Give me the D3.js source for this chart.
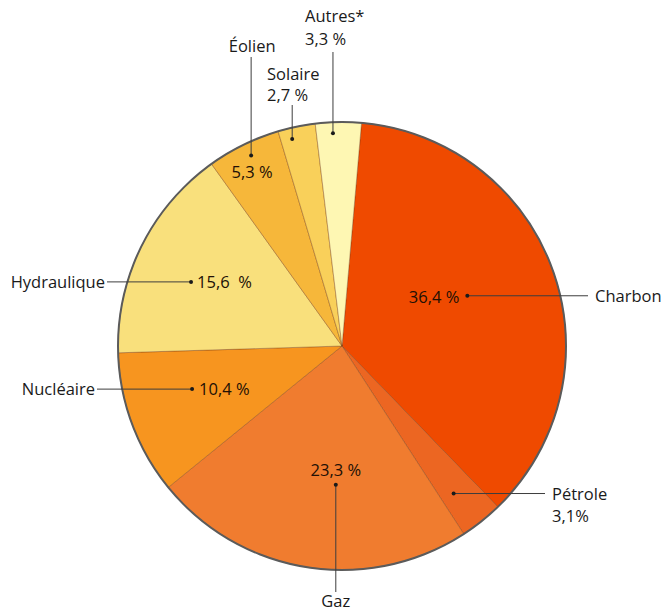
<!DOCTYPE html>
<html>
<head>
<meta charset="utf-8">
<script src="https://cdn.jsdelivr.net/npm/d3@7"></script>
<style>
  html, body { margin: 0; padding: 0; background: #fff; }
  svg text { font-family: "Open Sans", "Noto Sans", sans-serif; }
</style>
</head>
<body>
<svg id="chart" width="666" height="614"></svg>
<script>
// Energy mix shares (%), clockwise from the top
const categories = ["Charbon", "Pétrole", "Gaz", "Nucléaire", "Hydraulique", "Éolien", "Solaire", "Autres*"];
const values = [36.4, 3.1, 23.3, 10.4, 15.6, 5.3, 2.7, 3.3];
const valueLabels = ["36,4 %", "3,1%", "23,3 %", "10,4 %", "15,6  %", "5,3 %", "2,7 %", "3,3 %"];
const colors = ["#EF4A00", "#EC6622", "#F07C2F", "#F7951F", "#F9E07C", "#F6B73A", "#F9D05A", "#FEF7B3"];

const cx = 342, cy = 346, radius = 224;
const startDeg = 5;
const fontSize = 16.5;

// Annotation layout per slice: dot offset (angle from slice middle, distance from centre),
// leader direction and where the outer label sits.
const annot = [
  { dA: -2.3, r: 135, lead: "h", to: 588, name: { x: 595, dy: 6, anchor: "start" }, value: { dx: -8, dy: 7, anchor: "end" } },
  { dA: 1.4,  r: 185, lead: "h", to: 545, name: { x: 552, dy: 6, anchor: "start", withValue: true, gap: 22 } },
  { dA: -6.4, r: 139, lead: "v", to: 592, name: { y: 607, dx: 0, anchor: "middle" }, value: { dx: 0, dy: -9, anchor: "middle" } },
  { dA: 4.4,  r: 156, lead: "h", to: 97,  name: { x: 95, dy: 6, anchor: "end" }, value: { dx: 7, dy: 6, anchor: "start" } },
  { dA: -3.3, r: 164, lead: "h", to: 107, name: { x: 105, dy: 6, anchor: "end" }, value: { dx: 6, dy: 6, anchor: "start" } },
  { dA: 0.6,  r: 211, lead: "v", to: 57,  name: { y: 52, dx: 1, anchor: "middle" }, value: { dx: 1, dy: 22, anchor: "middle" } },
  { dA: -1.8, r: 213, lead: "v", to: 105, name: { y: 80, x: 267, anchor: "start", withValue: true, gap: 21 } },
  { dA: -1.5, r: 213, lead: "v", to: 52,  name: { y: 22, x: 305, anchor: "start", withValue: true, gap: 23 } }
];

const rows = categories.map((c, i) => ({ name: c, value: values[i], label: valueLabels[i], color: colors[i], a: annot[i] }));

const svg = d3.select("#chart");
const g = svg.append("g").attr("transform", `translate(${cx},${cy})`);

const toRad = d => d * Math.PI / 180;
const pie = d3.pie().sort(null).value(d => d.value)
  .startAngle(toRad(startDeg)).endAngle(toRad(startDeg + 360));
const arcs = pie(rows);
const arc = d3.arc().innerRadius(0).outerRadius(radius);

// slices
g.selectAll("path.slice").data(arcs).join("path")
  .attr("class", "slice")
  .attr("d", arc)
  .attr("fill", d => d.data.color)
  .attr("stroke", "rgba(120,60,20,0.55)")
  .attr("stroke-width", 0.7);

// outer rim
g.append("circle").attr("r", radius)
  .attr("fill", "none").attr("stroke", "#5b5b5b").attr("stroke-width", 2);

const polar = (angDeg, r) => [r * Math.sin(toRad(angDeg)), -r * Math.cos(toRad(angDeg))];

const ann = svg.append("g");
arcs.forEach(d => {
  const a = d.data.a;
  const mid = (d.startAngle + d.endAngle) / 2 * 180 / Math.PI;
  const [px, py] = polar(mid + a.dA, a.r);
  const x = cx + px, y = cy + py;

  // leader line
  const line = a.lead === "h" ? [x, y, a.to, y] : [x, y, x, a.to];
  ann.append("line")
    .attr("x1", line[0]).attr("y1", line[1]).attr("x2", line[2]).attr("y2", line[3])
    .attr("stroke", "#3d3d3d").attr("stroke-width", 1);
  ann.append("circle").attr("cx", x).attr("cy", y).attr("r", 2).attr("fill", "#1a1a1a");

  // category name (and value when it sits outside)
  const n = a.name;
  const nx = n.x !== undefined ? n.x : x + (n.dx || 0);
  const ny = n.y !== undefined ? n.y : y + n.dy;
  ann.append("text")
    .attr("x", nx).attr("y", ny)
    .attr("text-anchor", n.anchor)
    .attr("font-size", fontSize).attr("fill", "#1a1a1a")
    .text(d.data.name);
  if (n.withValue) {
    ann.append("text")
      .attr("x", nx).attr("y", ny + n.gap)
      .attr("text-anchor", n.anchor)
      .attr("font-size", fontSize).attr("fill", "#1a1a1a")
      .text(d.data.label);
  }

  // value inside the slice
  if (a.value) {
    ann.append("text")
      .attr("x", x + a.value.dx).attr("y", y + a.value.dy)
      .attr("text-anchor", a.value.anchor)
      .attr("font-size", fontSize).attr("fill", "#221005")
      .style("white-space", "pre")
      .text(d.data.label);
  }
});
</script>
</body>
</html>
